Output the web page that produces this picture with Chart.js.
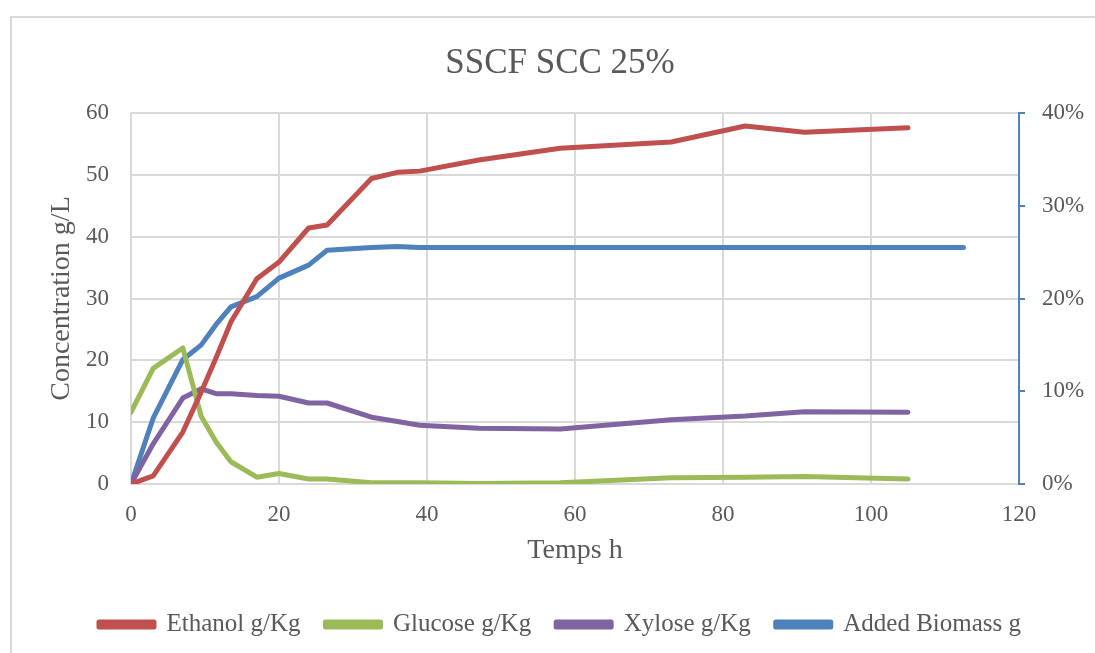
<!DOCTYPE html>
<html>
<head>
<meta charset="utf-8">
<script src="https://cdn.jsdelivr.net/npm/chart.js@4/dist/chart.umd.min.js"></script>
<style>
  body { margin: 0; background: #fff; overflow: hidden; }
  #frame { position: absolute; left: 10px; top: 16px; width: 1100px; height: 700px; border: 2px solid #d9d9d9; box-sizing: border-box; }
  #wrap { position: absolute; left: 0; top: 0; width: 1095px; height: 653px; }
</style>
</head>
<body>
<div id="frame"></div>
<div id="wrap"><canvas id="sscfChart"></canvas></div>
<script>
// sampling times (h)
const times = [0, 3, 7, 9.5, 11.5, 13.5, 17, 20, 24, 26.5, 32.5, 36, 39, 47, 58, 73, 83, 91, 105];
const ethanol = [0, 1.3, 8.4, 14.9, 20.4, 26.2, 33.2, 35.9, 41.4, 41.9, 49.4, 50.4, 50.6, 52.4, 54.3, 55.3, 57.9, 56.9, 57.6];
const glucose = [11.6, 18.7, 22.0, 10.9, 6.8, 3.6, 1.1, 1.7, 0.8, 0.8, 0.2, 0.2, 0.2, 0.1, 0.2, 1.0, 1.1, 1.2, 0.8];
const xylose = [0, 6.5, 13.9, 15.4, 14.6, 14.6, 14.3, 14.2, 13.1, 13.1, 10.8, 10.1, 9.5, 9.0, 8.9, 10.4, 11.0, 11.7, 11.6];

// biomass feeding curve (fraction, right axis)
const biomassTimes = [0, 3, 7, 9.5, 11.5, 13.5, 17, 20, 24, 26.5, 32.5, 36, 39, 47, 58, 73, 83, 91, 105, 112.5];
const biomass = [0, 0.071, 0.134, 0.150, 0.172, 0.191, 0.202, 0.222, 0.236, 0.252, 0.255, 0.256, 0.255, 0.255, 0.255, 0.255, 0.255, 0.255, 0.255, 0.255];

const xTicks = [0, 20, 40, 60, 80, 100, 120];

const textColor = '#595959';
const gridColor = '#d9d9d9';
const serif = 'Liberation Serif';

function toPoints(xs, ys) {
  return xs.map((x, i) => ({ x: x, y: ys[i] }));
}

function lineSet(label, xs, ys, color, axis) {
  return {
    label: label,
    data: toPoints(xs, ys),
    borderColor: color,
    backgroundColor: color,
    borderWidth: 5,
    borderCapStyle: 'round',
    borderJoinStyle: 'round',
    pointRadius: 0,
    tension: 0,
    showLine: true,
    yAxisID: axis
  };
}

const ctx = document.getElementById('sscfChart').getContext('2d');

new Chart(ctx, {
  type: 'scatter',
  data: {
    datasets: [
      lineSet('Ethanol g/Kg', times, ethanol, '#C0504D', 'y'),
      lineSet('Glucose g/Kg', times, glucose, '#9BBB59', 'y'),
      lineSet('Xylose g/Kg', times, xylose, '#8064A2', 'y'),
      lineSet('Added Biomass g', biomassTimes, biomass, '#4F81BD', 'y1')
    ]
  },
  options: {
    responsive: true,
    maintainAspectRatio: false,
    animation: false,
    layout: { padding: { left: 25, right: 0, top: 0, bottom: 6 } },
    plugins: {
      tooltip: { enabled: false },
      title: {
        display: true,
        text: 'SSCF SCC 25%',
        color: textColor,
        font: { family: serif, size: 35, weight: 'normal' },
        padding: { top: 43, bottom: 28 }
      },
      legend: {
        position: 'bottom',
        labels: {
          color: textColor,
          font: { family: serif, size: 25 },
          boxWidth: 55,
          boxHeight: 5,
          padding: 25
        }
      }
    },
    scales: {
      x: {
        type: 'linear',
        min: 0,
        max: 120,
        afterBuildTicks: (axis) => { axis.ticks = xTicks.map(v => ({ value: v })); },
        afterFit: (axis) => { axis.height = 103; },
        ticks: { color: textColor, font: { family: serif, size: 23 }, padding: 17, maxRotation: 0 },
        grid: { color: gridColor, lineWidth: 2, drawTicks: false },
        border: { color: gridColor, width: 2 },
        title: {
          display: true,
          text: 'Temps h',
          color: textColor,
          font: { family: serif, size: 28 },
          padding: { top: 0, bottom: 20 }
        }
      },
      y: {
        position: 'left',
        min: 0,
        max: 60,
        afterFit: (axis) => { axis.width = 106; },
        ticks: { stepSize: 10, color: textColor, font: { family: serif, size: 23 }, padding: 22 },
        grid: { color: gridColor, lineWidth: 2, drawTicks: false },
        border: { display: false },
        title: {
          display: true,
          text: 'Concentration g/L',
          color: textColor,
          font: { family: serif, size: 28 },
          padding: { top: 20, bottom: 0 }
        }
      },
      y1: {
        position: 'right',
        min: 0,
        max: 0.4,
        afterFit: (axis) => { axis.width = 76; },
        ticks: {
          stepSize: 0.1,
          color: textColor,
          font: { family: serif, size: 23 },
          padding: 17,
          callback: (v) => Math.round(v * 100) + '%'
        },
        grid: { drawOnChartArea: false, drawTicks: true, tickLength: 6, color: '#4F81BD', lineWidth: 2 },
        border: { color: '#4F81BD', width: 2 }
      }
    }
  }
});
</script>
</body>
</html>
